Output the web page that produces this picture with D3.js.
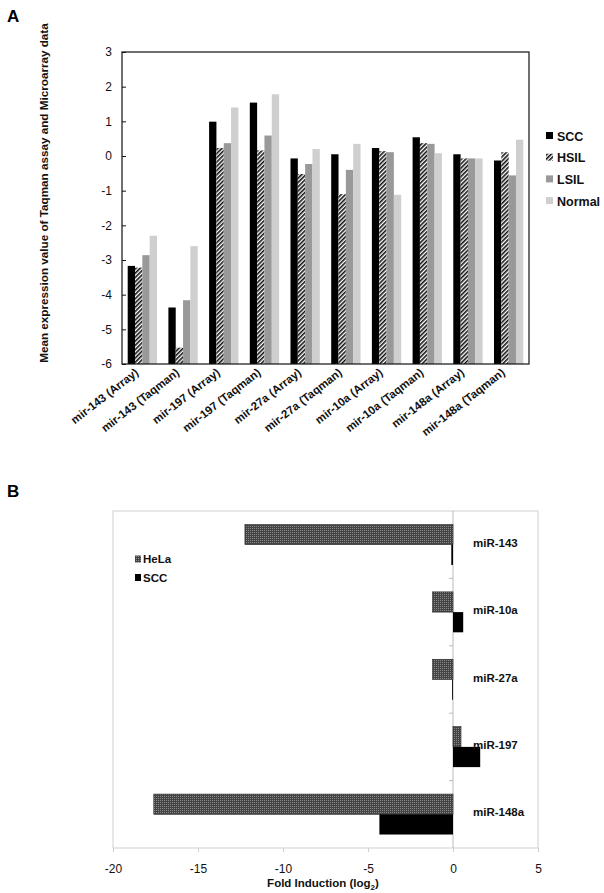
<!DOCTYPE html>
<html><head><meta charset="utf-8">
<script src="https://cdn.jsdelivr.net/npm/d3@7"></script>
<style>body{margin:0;background:#fff}svg{display:block}text{font-family:"Liberation Sans",Arial,sans-serif}</style>
</head><body>
<svg id="c" width="604" height="893"></svg>
<script>
// ---- Panel A data ----
const catsA = ["mir-143 (Array)","mir-143 (Taqman)","mir-197 (Array)","mir-197 (Taqman)","mir-27a (Array)","mir-27a (Taqman)","mir-10a (Array)","mir-10a (Taqman)","mir-148a (Array)","mir-148a (Taqman)"];
const seriesA = ["SCC","HSIL","LSIL","Normal"];
const SCC    = [-3.17,-4.37,0.99,1.54,-0.07,0.05,0.23,0.54,0.05,-0.13];
const HSIL   = [-3.22,-5.53,0.23,0.16,-0.52,-1.10,0.14,0.37,-0.07,0.11];
const LSIL   = [-2.86,-4.16,0.37,0.59,-0.23,-0.40,0.11,0.35,-0.07,-0.56];
const Normal = [-2.30,-2.60,1.40,1.78,0.20,0.35,-1.12,0.08,-0.07,0.47];
const yTicksA = [3,2,1,0,-1,-2,-3,-4,-5,-6];

// ---- Panel B data ----
const catsB = ["miR-143","miR-10a","miR-27a","miR-197","miR-148a"];
const seriesB = ["HeLa","SCC"];
const HeLaB = [-12.24,-1.2,-1.2,0.47,-17.6];
const SCCB  = [-0.1,0.6,-0.05,1.6,-4.33];
const xTicksB = [-20,-15,-10,-5,0,5];

const fmt = d => String(d);
const svg = d3.select("#c");
const defs = svg.append("defs");
// HSIL diagonal hatch
const ph = defs.append("pattern").attr("id","hatch").attr("patternUnits","userSpaceOnUse")
  .attr("width",3).attr("height",3).attr("patternTransform","rotate(45)");
ph.append("rect").attr("width",3).attr("height",3).attr("fill","#fff");
ph.append("rect").attr("width",1.6).attr("height",3).attr("fill","#111");
// HeLa stipple
const pd = defs.append("pattern").attr("id","dots").attr("patternUnits","userSpaceOnUse")
  .attr("width",2).attr("height",2);
pd.append("rect").attr("width",2).attr("height",2).attr("fill","#444");
pd.append("rect").attr("x",0).attr("y",0).attr("width",1).attr("height",1).attr("fill","#8a8a8a");

const fillA = {SCC:"#000",HSIL:"url(#hatch)",LSIL:"#999",Normal:"#cfcfcf"};
const dataA = {SCC,HSIL,LSIL,Normal};

// ===== Panel A =====
const A = {l:122,r:529,t:52,b:364};
svg.append("text").attr("x",7).attr("y",22).attr("font-size",17).attr("font-weight","bold").text("A");
const x0 = d3.scaleBand().domain(catsA).range([A.l,A.r]).paddingInner(0.28).paddingOuter(0.14);
const x1 = d3.scaleBand().domain(seriesA).range([0,x0.bandwidth()]);
const yA = d3.scaleLinear().domain([-6,3]).range([A.b,A.t]);

const gA = svg.append("g");
catsA.forEach((c,i)=>{
  seriesA.forEach(s=>{
    const v = dataA[s][i];
    gA.append("rect").attr("x",x0(c)+x1(s)).attr("width",x1.bandwidth())
      .attr("y",yA(v)).attr("height",yA(-6)-yA(v)).attr("fill",fillA[s]);
  });
});
// frame
svg.append("rect").attr("x",A.l).attr("y",A.t).attr("width",A.r-A.l).attr("height",A.b-A.t)
  .attr("fill","none").attr("stroke","#111").attr("stroke-width",1.2);
const axA = svg.append("g").attr("transform",`translate(${A.l},0)`)
  .call(d3.axisLeft(yA).tickValues(yTicksA).tickFormat(fmt).tickSizeInner(-4).tickSizeOuter(0).tickPadding(10));
axA.select(".domain").remove();
axA.selectAll("line").attr("stroke","#111");
axA.selectAll("text").attr("font-size",12).attr("fill","#111").style("font-family","Liberation Sans, Arial, sans-serif");

// x labels
catsA.forEach(c=>{
  const cx = x0(c)+x0.bandwidth()/2 - 3;
  svg.append("text").attr("transform",`translate(${cx},374) rotate(-38)`)
    .attr("text-anchor","end").attr("font-size",11.5).attr("font-weight","bold").attr("fill","#111").text(c);
});
// y title
svg.append("text").attr("transform","translate(48,193) rotate(-90)").attr("text-anchor","middle")
  .attr("font-size",11.7).attr("font-weight","bold").attr("fill","#111")
  .text("Mean expression value of Taqman assay and Microarray data");
// legend A
seriesA.forEach((s,i)=>{
  const y = 136 + i*21.7;
  svg.append("rect").attr("x",546).attr("y",y-4).attr("width",7).attr("height",7).attr("fill",fillA[s]);
  svg.append("text").attr("x",557).attr("y",y+4.5).attr("font-size",12.5).attr("font-weight","bold").attr("fill","#111").text(s);
});

// ===== Panel B =====
const B = {l:113,r:538,t:511,b:848};
svg.append("text").attr("x",7).attr("y",497).attr("font-size",17).attr("font-weight","bold").text("B");
const xB = d3.scaleLinear().domain([-20,5]).range([B.l,B.r]);
const yB = d3.scaleBand().domain(catsB).range([B.t,B.b]).paddingInner(0.4).paddingOuter(0.2);
const yB1 = d3.scaleBand().domain(seriesB).range([0,yB.bandwidth()]);
const dataB = {HeLa:HeLaB,SCC:SCCB};
const fillB = {HeLa:"url(#dots)",SCC:"#000"};

svg.append("rect").attr("x",B.l).attr("y",B.t).attr("width",B.r-B.l).attr("height",B.b-B.t)
  .attr("fill","none").attr("stroke","#cfcfcf").attr("stroke-width",1);
// zero line
svg.append("line").attr("x1",xB(0)).attr("x2",xB(0)).attr("y1",B.t).attr("y2",B.b).attr("stroke","#bbb");
// category boundary ticks on zero line
catsB.slice(1).forEach(c=>{
  const y = yB(c) - yB.step()*yB.paddingInner()/2;
  svg.append("line").attr("x1",xB(0)-4).attr("x2",xB(0)).attr("y1",y).attr("y2",y).attr("stroke","#bbb");
});
catsB.forEach((c,i)=>{
  seriesB.forEach(s=>{
    const v = dataB[s][i];
    svg.append("rect").attr("x",Math.min(xB(0),xB(v))).attr("width",Math.abs(xB(v)-xB(0)))
      .attr("y",yB(c)+yB1(s)).attr("height",yB1.bandwidth()).attr("fill",fillB[s])
      .attr("stroke",s==="HeLa"?"#222":"none").attr("stroke-width",0.6);
  });
  svg.append("text").attr("x",473).attr("y",yB(c)+yB.bandwidth()/2-2).attr("dy","0.35em")
    .attr("font-size",11.5).attr("font-weight","bold").attr("fill","#111").text(c);
});
const axB = svg.append("g").attr("transform",`translate(0,${B.b})`)
  .call(d3.axisBottom(xB).tickValues(xTicksB).tickFormat(fmt).tickSizeInner(4).tickSizeOuter(0).tickPadding(12));
axB.select(".domain").remove();
axB.selectAll("line").attr("stroke","#cfcfcf");
axB.selectAll("text").attr("font-size",12).attr("fill","#111").style("font-family","Liberation Sans, Arial, sans-serif");
const xt = svg.append("text").attr("x",323).attr("y",887).attr("text-anchor","middle")
  .attr("font-size",11.5).attr("font-weight","bold").attr("fill","#111");
xt.append("tspan").text("Fold Induction (log");
xt.append("tspan").attr("font-size",8).attr("dy",3).text("2");
xt.append("tspan").attr("dy",-3).text(")");
// legend B
seriesB.forEach((s,i)=>{
  const y = 559 + i*18.5;
  svg.append("rect").attr("x",135).attr("y",y-3.5).attr("width",6).attr("height",7).attr("fill",fillB[s]);
  svg.append("text").attr("x",143).attr("y",y+4).attr("font-size",11.5).attr("font-weight","bold").attr("fill","#111").text(s);
});
</script>
</body></html>
